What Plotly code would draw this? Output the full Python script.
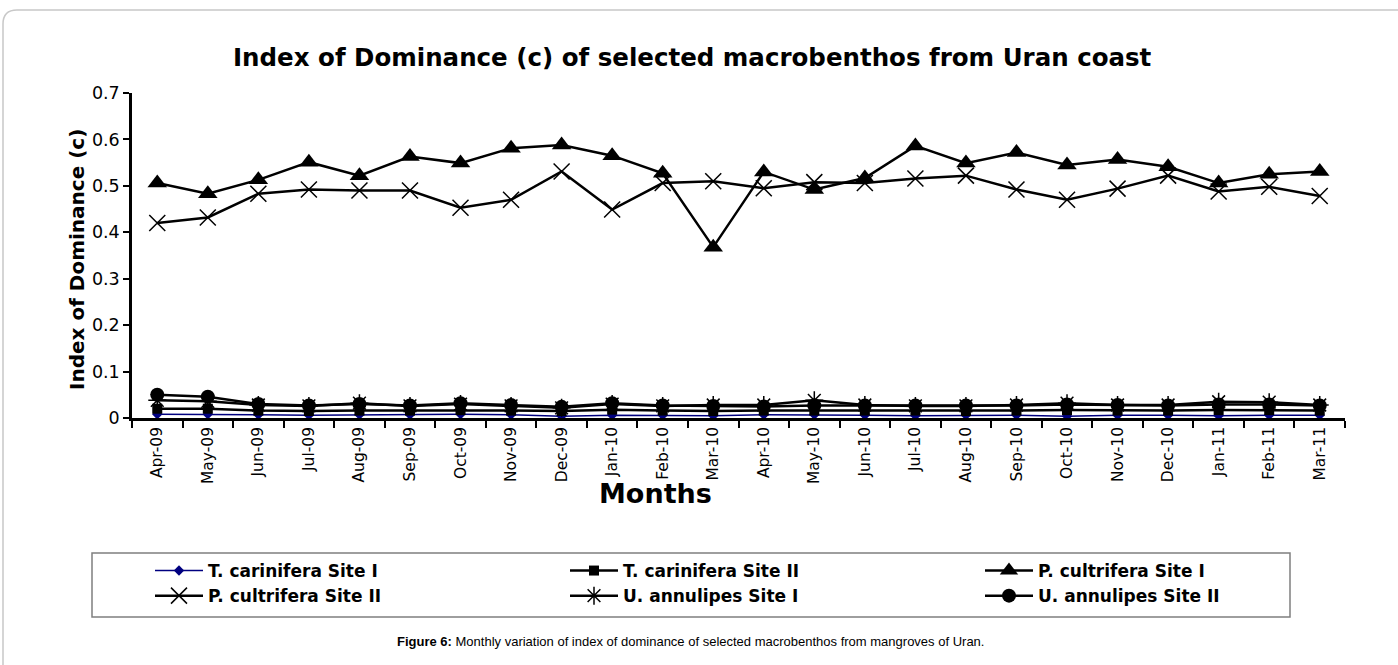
import plotly.graph_objects as go

months = ["Apr-09", "May-09", "Jun-09", "Jul-09", "Aug-09", "Sep-09", "Oct-09", "Nov-09",
          "Dec-09", "Jan-10", "Feb-10", "Mar-10", "Apr-10", "May-10", "Jun-10", "Jul-10",
          "Aug-10", "Sep-10", "Oct-10", "Nov-10", "Dec-10", "Jan-11", "Feb-11", "Mar-11"]

t_carinifera_site1 = [0.008, 0.008, 0.007, 0.006, 0.007, 0.007, 0.008, 0.007, 0.004, 0.006, 0.006, 0.005,
                      0.007, 0.007, 0.006, 0.005, 0.006, 0.006, 0.004, 0.006, 0.006, 0.005, 0.006, 0.006]
t_carinifera_site2 = [0.020, 0.020, 0.016, 0.015, 0.016, 0.016, 0.017, 0.016, 0.015, 0.018, 0.016, 0.015,
                      0.016, 0.016, 0.016, 0.016, 0.015, 0.016, 0.017, 0.016, 0.016, 0.017, 0.017, 0.016]
p_cultrifera_site1 = [0.506, 0.483, 0.513, 0.551, 0.522, 0.563, 0.549, 0.581, 0.588, 0.565, 0.527, 0.368,
                      0.530, 0.492, 0.517, 0.586, 0.549, 0.572, 0.545, 0.557, 0.541, 0.506, 0.525, 0.531]
p_cultrifera_site2 = [0.420, 0.432, 0.483, 0.492, 0.490, 0.490, 0.453, 0.470, 0.531, 0.449, 0.506, 0.510,
                      0.495, 0.508, 0.506, 0.516, 0.522, 0.492, 0.470, 0.494, 0.522, 0.488, 0.498, 0.478]
u_annulipes_site1 = [0.038, 0.036, 0.028, 0.026, 0.032, 0.026, 0.030, 0.026, 0.022, 0.030, 0.026, 0.028,
                     0.028, 0.038, 0.028, 0.026, 0.026, 0.028, 0.032, 0.028, 0.028, 0.035, 0.034, 0.028]
u_annulipes_site2 = [0.050, 0.046, 0.030, 0.027, 0.030, 0.027, 0.032, 0.028, 0.024, 0.032, 0.027, 0.026,
                     0.025, 0.027, 0.027, 0.027, 0.027, 0.027, 0.029, 0.028, 0.027, 0.029, 0.029, 0.027]

y_ticks = [0, 0.1, 0.2, 0.3, 0.4, 0.5, 0.6, 0.7]
y_tick_labels = ["0", "0.1", "0.2", "0.3", "0.4", "0.5", "0.6", "0.7"]

WIDE = "DejaVu Sans, Verdana, sans-serif"
ARIAL = "Liberation Sans, Arial, sans-serif"
W, H = 1398, 665
L, R, T, B = 132, 1345, 93, 418


def fx(p):
    return (p - L) / (R - L)


def fy(p):
    return (B - p) / (B - T)


fig = go.Figure()

series = [
    ("T. carinifera Site I", t_carinifera_site1, "#000080", 1.5, "diamond", 8, "legend", "a"),
    ("T. carinifera Site II", t_carinifera_site2, "black", 2.5, "square", 10, "legend2", "c"),
    ("P. cultrifera Site I", p_cultrifera_site1, "black", 2.5, "triangle-up", 17, "legend3", "e"),
    ("P. cultrifera Site II", p_cultrifera_site2, "black", 2.5, "x-thin-open", 16, "legend", "b"),
    ("U. annulipes Site I", u_annulipes_site1, "black", 2.5, "asterisk-open", 15, "legend2", "d"),
    ("U. annulipes Site II", u_annulipes_site2, "black", 2.5, "circle", 14, "legend3", "f"),
]

for name, vals, col, lw, sym, size, leg, grp in series:
    open_sym = sym.endswith("open")
    fig.add_trace(go.Scatter(
        x=months, y=vals, name=name, mode="lines+markers",
        line=dict(color=col, width=lw),
        marker=dict(symbol=sym, size=size, color=col,
                    line=dict(color=col, width=1.5 if open_sym else 0)),
        legend=leg, legendgroup=grp,
    ))

legend_common = dict(
    orientation="v", xanchor="left", yanchor="top", bgcolor="rgba(0,0,0,0)",
    font=dict(family=WIDE, size=17, color="black", weight="bold"),
    itemwidth=48, tracegroupgap=12, traceorder="normal",
)

fig.update_layout(
    width=W, height=H,
    margin=dict(l=L, r=W - R, t=T, b=H - B, autoexpand=False),
    paper_bgcolor="white", plot_bgcolor="white",
    showlegend=True,
    legend=dict(x=fx(150), y=fy(553), **legend_common),
    legend2=dict(x=fx(565), y=fy(553), **legend_common),
    legend3=dict(x=fx(980), y=fy(553), **legend_common),
    xaxis=dict(
        type="category", range=[-0.5, 23.5], tickson="boundaries",
        ticks="outside", ticklen=7, tickwidth=2, tickcolor="black",
        showline=True, linecolor="black", linewidth=2.5, showgrid=False,
        tickangle=-90, tickfont=dict(family=WIDE, size=15.5, color="black"),
        zeroline=False,
    ),
    yaxis=dict(
        range=[0, 0.7], tickvals=y_ticks, ticktext=y_tick_labels,
        ticks="outside", ticklen=6, tickwidth=2, tickcolor="black",
        showline=True, linecolor="black", linewidth=2.5, showgrid=False,
        tickfont=dict(family=WIDE, size=17.5, color="black"), zeroline=False,
        ticklabelstandoff=0,
    ),
)

annotations = [
    dict(text="<b>Index of Dominance (c) of selected macrobenthos from Uran coast</b>",
         x=fx(692), y=fy(58), xanchor="center", yanchor="middle",
         font=dict(family=WIDE, size=24.5, color="black")),
    dict(text="<b>Index of Dominance (c)</b>", x=fx(77), y=fy(260), textangle=-90,
         xanchor="center", yanchor="middle", font=dict(family=WIDE, size=20, color="black")),
    dict(text="<b>Months</b>", x=fx(655), y=fy(493), xanchor="center", yanchor="middle",
         font=dict(family=WIDE, size=27, color="black")),
    dict(text="<b>Figure 6:</b> Monthly variation of index of dominance of selected macrobenthos from mangroves of Uran.",
         x=fx(690), y=fy(641), xanchor="center", yanchor="middle",
         font=dict(family=ARIAL, size=13, color="black")),
]
for a in annotations:
    a.update(xref="paper", yref="paper", showarrow=False)
fig.update_layout(annotations=annotations)

frame_path = (f"M {fx(3)},{fy(700)} L {fx(3)},{fy(24)} "
              f"Q {fx(3)},{fy(10)} {fx(17)},{fy(10)} L {fx(1420)},{fy(10)}")
fig.update_layout(shapes=[
    dict(type="rect", xref="paper", yref="paper", x0=fx(92), x1=fx(1290), y0=fy(553), y1=fy(617),
         line=dict(color="#7f7f7f", width=1.5), fillcolor="rgba(0,0,0,0)", layer="below"),
    dict(type="path", xref="paper", yref="paper", path=frame_path,
         line=dict(color="#c8c8c8", width=1.5), layer="below"),
])

fig.write_html("out.html", config={"displayModeBar": False},
               post_script="document.body.style.margin='0';")
